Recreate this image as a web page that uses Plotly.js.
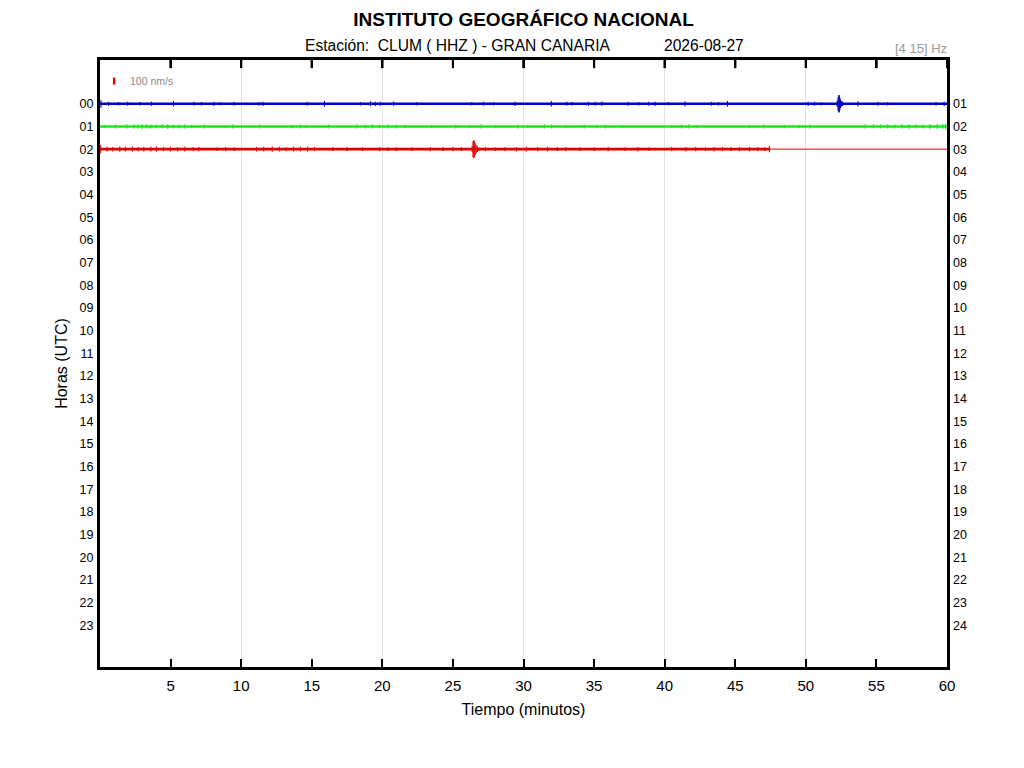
<!DOCTYPE html>
<html>
<head>
<meta charset="utf-8">
<script src="https://cdn.plot.ly/plotly-3.0.1.min.js"></script>
<style>html,body{margin:0;padding:0;background:#fff;} #chart{width:1024px;height:768px;}</style>
</head>
<body>
<div id="chart"></div>
<script>
// ---- data ----
const hourRows = [0, 1, 2];
const hourColors = ['#0000c8', '#1ee41e', '#e00000'];
const hourStart = [0, 0, 0];
const hourEnd = [60, 60, 47.42];
const redTailStart = 47.42;
const redTailEnd = 60;

const leftTickVals = [0,1,2,3,4,5,6,7,8,9,10,11,12,13,14,15,16,17,18,19,20,21,22,23];
const leftTickText = ['00','01','02','03','04','05','06','07','08','09','10','11','12','13','14','15','16','17','18','19','20','21','22','23'];
const rightTickText = ['01','02','03','04','05','06','07','08','09','10','11','12','13','14','15','16','17','18','19','20','21','22','23','24'];
const xTickVals = [5,10,15,20,25,30,35,40,45,50,55,60];
const xGridVals = [10,20,30,40,50];

// spike times (minutes) and amplitudes (nm/s)
const blueSpikeT = [0.07,0.61,1.3,1.96,2.85,3.65,5.2,6.67,7.19,8.08,8.55,9.49,11.26,11.54,14.68,15.9,18.45,19.15,19.5,19.86,20.8,22.45,26.34,27.16,27.87,29.4,31.97,33.07,33.43,34.6,35.08,35.55,37.43,38.14,38.85,39.32,40.26,41.44,43.32,43.8,44.45,50.16,50.62,51.1,52.22,52.28,52.33,52.37,52.41,52.46,52.52,52.6,53.69,55.1,55.8,59.22,59.8];
const blueSpikeA = [55,30,25,28,25,30,40,28,25,30,25,28,25,30,28,40,25,35,30,28,32,25,25,28,25,30,40,28,25,30,28,32,28,25,28,30,25,35,28,25,40,30,28,25,45,95,125,120,90,60,40,30,35,28,25,25,30];

const greenSpikeT = [0.3,1.1,1.9,2.4,2.7,3.0,3.3,3.6,4.0,4.4,4.8,5.2,5.6,6.0,6.5,7.4,8.9,9.4,11.3,13.6,14.2,14.6,16.2,18.2,18.8,19.3,19.8,20.4,21.0,21.6,23.5,25.2,26.2,27.0,28.0,29.6,30.3,31.5,32.0,33.0,34.3,35.2,35.8,37.0,40.5,41.2,41.7,42.3,46.0,47.0,48.5,49.5,50.3,54.2,54.8,55.3,55.8,56.3,56.8,57.3,57.8,58.3,58.8,59.3,59.7,59.9];
const greenSpikeA = [25,28,30,32,28,35,30,32,28,30,35,28,30,32,26,28,25,30,28,26,30,25,28,30,28,32,26,30,28,25,26,28,25,30,26,28,25,30,28,26,28,25,28,26,25,28,30,26,25,28,26,25,28,30,32,28,34,30,32,35,33,30,36,38,40,42];

const redSpikeT = [0.05,0.5,0.9,1.4,1.8,2.3,2.7,3.1,3.6,4.0,4.5,5.0,5.5,6.0,6.6,7.0,8.3,8.9,9.5,11.1,11.6,12.2,12.7,13.2,13.7,14.2,14.7,15.2,16.5,17.5,18.6,19.8,20.4,21.0,22.1,23.4,24.3,25.0,25.6,26.36,26.42,26.48,26.52,26.58,26.65,26.74,26.85,27.3,28.0,28.7,29.5,30.2,31.0,31.7,32.4,33.0,34.0,35.0,36.0,37.2,38.1,38.9,40.5,41.5,42.2,42.9,43.5,44.1,44.7,45.3,46.0,46.6,47.1,47.42];
const redSpikeA = [60,35,32,38,34,36,32,35,33,36,30,34,32,35,30,33,28,30,28,32,34,36,33,30,34,32,35,30,28,26,28,30,28,26,28,30,28,30,28,45,110,130,115,85,60,40,25,30,28,30,32,34,30,32,28,30,28,26,30,28,32,28,30,32,30,28,32,30,28,30,32,30,28,45];

const scaleBarMinute = 1;
const scaleBarRow = -1;
const scaleBarNm = 100;

// ---- build ----
const K = 0.0031; // rows per nm/s
const FONT = 'Liberation Sans, Arial, Helvetica, sans-serif';
const yRange = [24.83, -1.93];
const TOP_TICK_DEPTH = 0.36; // rows (about 8 px)

function spikeTrace(row, ts, as, color) {
  const x = [], y = [];
  for (let i = 0; i < ts.length; i++) {
    x.push(ts[i], ts[i], null);
    y.push(row - as[i] * K, row + as[i] * K, null);
  }
  return {x, y, type: 'scatter', mode: 'lines', connectgaps: false,
          line: {color, width: 1.1}, hoverinfo: 'skip', showlegend: false};
}

const traces = [];
for (let i = 0; i < hourRows.length; i++) {
  traces.push({x: [hourStart[i], hourEnd[i]], y: [hourRows[i], hourRows[i]],
    type: 'scatter', mode: 'lines', line: {color: hourColors[i], width: 2.6},
    hoverinfo: 'skip', showlegend: false});
}
traces.push({x: [redTailStart, redTailEnd], y: [hourRows[2], hourRows[2]],
  xaxis: 'x2', yaxis: 'y2', type: 'scatter', mode: 'lines', line: {color: hourColors[2], width: 1},
  hoverinfo: 'skip', showlegend: false});
traces.push(spikeTrace(hourRows[0], blueSpikeT, blueSpikeA, hourColors[0]));
traces.push(spikeTrace(hourRows[1], greenSpikeT, greenSpikeA, hourColors[1]));
traces.push(spikeTrace(hourRows[2], redSpikeT, redSpikeA, hourColors[2]));
traces.push({x: [scaleBarMinute, scaleBarMinute],
  y: [scaleBarRow - scaleBarNm / 2 * K, scaleBarRow + scaleBarNm / 2 * K],
  type: 'scatter', mode: 'lines',
  line: {color: '#e00000', width: 2.4}, hoverinfo: 'skip', showlegend: false});
// top-frame tick marks, mirroring the x ticks (on the main subplot)
(function () {
  const x = [], y = [];
  xTickVals.forEach(v => { x.push(v, v, null); y.push(yRange[1], yRange[1] + TOP_TICK_DEPTH, null); });
  traces.push({x, y, type: 'scatter', mode: 'lines', connectgaps: false,
    line: {color: '#000', width: 2}, hoverinfo: 'skip', showlegend: false});
})();

// same top ticks as layout shapes (x in data units, y relative to the frame)
const topTickShapes = xTickVals.map(v => ({
  type: 'line', xref: 'x', yref: 'paper', x0: v, x1: v, y0: 1, y1: 1 - 8 / 606.5,
  line: {color: '#000', width: 2}, layer: 'above'
}));

const layout = {
  width: 1024, height: 768,
  margin: {l: 100, r: 77, t: 60, b: 101, pad: 0},
  paper_bgcolor: '#ffffff', plot_bgcolor: '#ffffff',
  font: {family: FONT, color: '#000', size: 13},
  title: {text: '<b>INSTITUTO GEOGRÁFICO NACIONAL</b>', font: {family: FONT, size: 19, color: '#000'},
          xref: 'paper', x: 0.5, xanchor: 'center', yref: 'container', y: 1 - 19 / 768, yanchor: 'middle'},
  xaxis: {range: [0, 60], tickvals: xTickVals, ticktext: xTickVals.map(String),
          ticks: 'inside', ticklen: 8, tickwidth: 2, tickcolor: '#000',
          showline: true, linewidth: 3, linecolor: '#000', mirror: 'ticks',
          showgrid: false, zeroline: false, tickfont: {size: 15}, ticklabelstandoff: 3,
          title: {text: 'Tiempo (minutos)', font: {size: 16}, standoff: 11}},
  xaxis2: {range: [0, 60], overlaying: 'x', anchor: 'y2', side: 'bottom',
           tickvals: xGridVals, showgrid: true, gridcolor: '#e2e2e2', gridwidth: 1,
           showticklabels: false, ticks: '', showline: false, zeroline: false},
  yaxis: {range: yRange, tickvals: leftTickVals, ticktext: leftTickText, ticks: '',
          showline: true, linewidth: 3, linecolor: '#000', mirror: true,
          showgrid: false, zeroline: false, tickfont: {size: 12.5}, ticklabelstandoff: 1,
          title: {text: 'Horas (UTC)', font: {size: 16}, standoff: 8}},
  yaxis2: {range: yRange, overlaying: 'y', anchor: 'x2', side: 'right',
           tickvals: leftTickVals, ticktext: rightTickText, ticks: '', ticklabelstandoff: 5,
           showline: false, showgrid: false, zeroline: false, tickfont: {size: 12.5}},
  shapes: topTickShapes,
  annotations: [
    {text: 'Estación:\u00a0\u00a0CLUM ( HHZ ) - GRAN CANARIA', xref: 'paper', yref: 'paper',
     x: (303 - 100) / 846.5, y: 1 + (60 - 46) / 606.5, xanchor: 'left', yanchor: 'middle',
     showarrow: false, font: {size: 15.6, color: '#000'}},
    {text: '2026-08-27', xref: 'paper', yref: 'paper',
     x: (662 - 100) / 846.5, y: 1 + (60 - 46) / 606.5, xanchor: 'left', yanchor: 'middle',
     showarrow: false, font: {size: 15.6, color: '#000'}},
    {text: '[4 15] Hz', xref: 'paper', yref: 'paper', x: 1.002, y: 1 + (60 - 49) / 606.5,
     xanchor: 'right', yanchor: 'middle', showarrow: false, font: {size: 13, color: '#999'}},
    {text: '100 nm/s', xref: 'x', yref: 'y', x: 1.95, y: scaleBarRow, xanchor: 'left', yanchor: 'middle',
     showarrow: false, font: {size: 10.5, color: '#888'}}
  ]
};

Plotly.newPlot('chart', traces, layout, {staticPlot: true, displayModeBar: false});
</script>
</body>
</html>
